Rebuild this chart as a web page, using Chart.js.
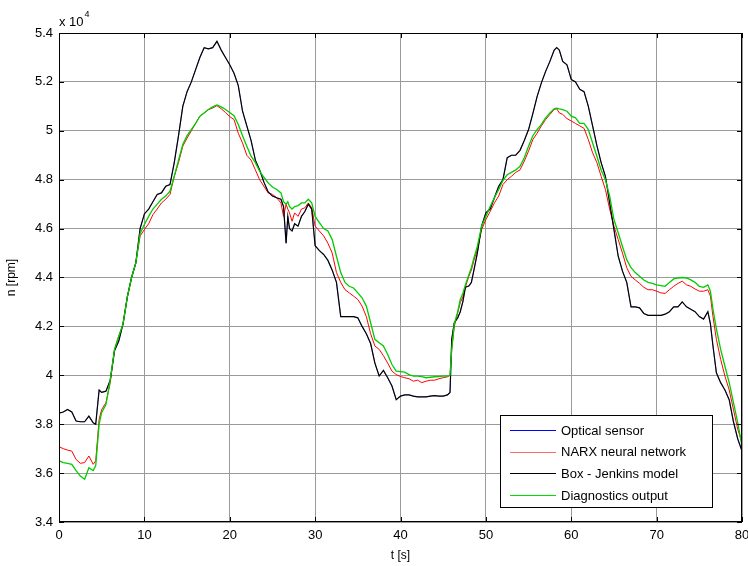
<!DOCTYPE html>
<html>
<head>
<meta charset="utf-8">
<script src="https://cdn.jsdelivr.net/npm/chart.js@4/dist/chart.umd.min.js"></script>
<style>
  html, body { margin: 0; padding: 0; background: #fff; }
  #wrap { width: 748px; height: 566px; }
</style>
</head>
<body>
<div id="wrap"><canvas id="myChart" width="748" height="566"></canvas></div>
<script>
// time [s]
const timeS = [0, 0.5, 1, 1.5, 2, 2.5, 3, 3.5, 4, 4.3, 4.7, 5, 5.5, 6, 6.5, 7, 7.5, 8, 8.5, 9, 9.5,
  10, 10.5, 11, 11.5, 12, 12.5, 13, 13.5, 14, 14.5, 15, 15.5, 16, 16.5, 17, 17.5, 18, 18.5, 19, 19.5,
  20, 20.5, 21, 21.5, 22, 22.5, 23, 23.5, 24, 24.5, 25, 25.5, 26, 26.3, 26.6, 26.8, 27, 27.3, 27.6,
  28, 28.4, 28.8, 29.2, 29.6, 30, 30.5, 31, 31.5, 32, 32.5, 33, 33.5, 34, 34.5, 35, 35.5, 36, 36.5,
  37, 37.5, 38, 38.5, 39, 39.5, 40, 40.5, 41, 41.5, 42, 42.5, 43, 43.5, 44, 44.5, 45, 45.5, 45.8,
  46, 46.3, 46.7, 47, 47.3, 47.6, 48, 48.3, 48.6, 49, 49.5, 50, 50.5, 51, 51.5, 52, 52.5, 53, 53.5,
  54, 54.5, 55, 55.5, 56, 56.5, 57, 57.5, 58, 58.3, 58.6, 59, 59.5, 60, 60.5, 61, 61.5, 62, 62.5,
  63, 63.5, 64, 64.5, 65, 65.5, 66, 66.5, 67, 67.5, 68, 68.5, 69, 69.5, 70, 70.5, 71, 71.5, 72,
  72.5, 73, 73.5, 74, 74.5, 75, 75.5, 76, 76.3, 76.6, 77, 77.5, 78, 78.5, 79, 79.5, 80];

// rotational speed, x 10^4 rpm
const boxJenkins = [3.845, 3.85, 3.86, 3.85, 3.813, 3.81, 3.81, 3.833, 3.806, 3.80, 3.94, 3.93, 3.935,
  3.98, 4.10, 4.14, 4.21, 4.32, 4.40, 4.46, 4.60,
  4.66, 4.68, 4.71, 4.74, 4.746, 4.773, 4.78, 4.87, 4.98, 5.10, 5.16, 5.20, 5.25, 5.30, 5.34, 5.335,
  5.34, 5.366, 5.33, 5.30,
  5.27, 5.235, 5.185, 5.08, 5.02, 4.96, 4.88, 4.84, 4.79, 4.75, 4.733, 4.726, 4.72, 4.69, 4.54, 4.65,
  4.60, 4.59, 4.62,
  4.61, 4.65, 4.67, 4.70, 4.68, 4.53, 4.51, 4.494, 4.47, 4.43, 4.38, 4.24, 4.24, 4.24, 4.24, 4.235,
  4.20, 4.17, 4.13,
  4.05, 3.997, 4.02, 3.99, 3.956, 3.90, 3.915, 3.92, 3.92, 3.915, 3.912, 3.912, 3.912, 3.915, 3.917,
  3.915, 3.915, 3.92, 3.93,
  4.147, 4.215, 4.235, 4.26, 4.30, 4.36, 4.365, 4.38, 4.43, 4.50, 4.61, 4.664, 4.68, 4.726, 4.773,
  4.80, 4.89, 4.90, 4.90,
  4.92, 4.96, 5.005, 5.07, 5.14, 5.196, 5.243, 5.284, 5.33, 5.34, 5.33, 5.284, 5.27, 5.21, 5.20,
  5.17, 5.16, 5.10, 5.02,
  4.94, 4.87, 4.814, 4.705, 4.596, 4.487, 4.426, 4.38, 4.28, 4.28, 4.276, 4.253, 4.245, 4.245, 4.245,
  4.245, 4.25, 4.26, 4.28,
  4.28, 4.30, 4.28, 4.27, 4.26, 4.24, 4.23, 4.26, 4.21, 4.12, 4.01, 3.97, 3.94, 3.90, 3.81, 3.74, 3.69];

// optical sensor trace lies under the Box-Jenkins trace in the picture
const opticalSensor = boxJenkins.slice();

const narx = [3.708, 3.70, 3.694, 3.69, 3.656, 3.64, 3.643, 3.67, 3.636, 3.65, 3.82, 3.86, 3.888,
  3.97, 4.106, 4.16, 4.21, 4.32, 4.40, 4.46, 4.57,
  4.596, 4.62, 4.657, 4.68, 4.705, 4.72, 4.74, 4.814, 4.87, 4.937, 4.97, 5.0, 5.03, 5.06, 5.073, 5.087,
  5.093, 5.103, 5.09, 5.075,
  5.058, 5.046, 4.99, 4.95, 4.90, 4.88, 4.84, 4.80, 4.773, 4.746, 4.74, 4.726, 4.705, 4.65, 4.70, 4.68,
  4.664, 4.63, 4.664,
  4.65, 4.68, 4.685, 4.705, 4.685, 4.61, 4.59, 4.57, 4.54, 4.50, 4.42, 4.38, 4.35, 4.337, 4.324, 4.31,
  4.283, 4.24, 4.17,
  4.12, 4.106, 4.08, 4.05, 4.017, 4.003, 3.995, 3.99, 3.986, 3.976, 3.98, 3.97, 3.976, 3.98, 3.98,
  3.986, 3.99, 3.994, 4.00,
  4.106, 4.20, 4.256, 4.297, 4.32, 4.36, 4.405, 4.43, 4.47, 4.514, 4.596, 4.637, 4.67, 4.705, 4.733,
  4.78, 4.80, 4.814, 4.83,
  4.84, 4.876, 4.917, 4.964, 4.99, 5.02, 5.046, 5.067, 5.087, 5.09, 5.073, 5.067, 5.05, 5.04, 5.03,
  5.02, 5.01, 4.964, 4.91,
  4.87, 4.814, 4.76, 4.68, 4.61, 4.555, 4.50, 4.44, 4.405, 4.39, 4.376, 4.36, 4.35, 4.35, 4.344,
  4.337, 4.335, 4.35, 4.364,
  4.376, 4.385, 4.37, 4.364, 4.353, 4.344, 4.344, 4.35, 4.324, 4.24, 4.147, 4.065, 3.997, 3.94, 3.86,
  3.78, 3.725];

const diagnostics = [3.65, 3.643, 3.64, 3.636, 3.61, 3.588, 3.575, 3.622, 3.61, 3.63, 3.80, 3.848, 3.88,
  3.98, 4.106, 4.16, 4.21, 4.32, 4.40, 4.46, 4.58,
  4.617, 4.65, 4.68, 4.70, 4.72, 4.733, 4.753, 4.814, 4.88, 4.944, 4.98, 5.005, 5.03, 5.06, 5.073,
  5.087, 5.098, 5.106, 5.098, 5.087,
  5.075, 5.062, 5.026, 4.98, 4.937, 4.896, 4.87, 4.835, 4.81, 4.787, 4.77, 4.76, 4.746, 4.71, 4.70,
  4.71, 4.69, 4.68, 4.69,
  4.694, 4.705, 4.705, 4.72, 4.705, 4.65, 4.624, 4.60, 4.59, 4.555, 4.487, 4.42, 4.38, 4.364, 4.357,
  4.337, 4.317, 4.283, 4.215,
  4.147, 4.133, 4.12, 4.085, 4.044, 4.017, 4.015, 4.013, 4.003, 3.997, 3.997, 3.995, 3.99, 3.992,
  3.994, 3.995, 3.997, 3.997, 4.00,
  4.106, 4.21, 4.26, 4.31, 4.335, 4.37, 4.41, 4.44, 4.48, 4.527, 4.61, 4.65, 4.69, 4.726, 4.76, 4.797,
  4.82, 4.83, 4.84,
  4.855, 4.89, 4.937, 4.98, 5.005, 5.026, 5.053, 5.073, 5.09, 5.093, 5.09, 5.087, 5.08, 5.06, 5.053,
  5.03, 5.03, 5.005, 4.95,
  4.896, 4.84, 4.80, 4.733, 4.637, 4.583, 4.527, 4.473, 4.44, 4.42, 4.405, 4.39, 4.38, 4.376, 4.37,
  4.367, 4.364, 4.38, 4.394,
  4.398, 4.40, 4.398, 4.39, 4.38, 4.364, 4.36, 4.37, 4.344, 4.27, 4.19, 4.106, 4.037, 3.97, 3.888,
  3.806, 3.71];

const seriesNames = ['Optical sensor', 'NARX neural network', 'Box - Jenkins model', 'Diagnostics output'];
const seriesColors = ['#0000ff', '#ff0000', '#000000', '#00cc00'];
const legendColors = ['#0000ff', '#ff6a6a', '#000000', '#00dd00'];
const xTicks = [0, 10, 20, 30, 40, 50, 60, 70, 80];
const yTicks = [3.4, 3.6, 3.8, 4, 4.2, 4.4, 4.6, 4.8, 5, 5.2, 5.4];

const FONT = "'Liberation Sans', Arial, sans-serif";
Chart.defaults.font.family = FONT;
Chart.defaults.font.size = 13;
Chart.defaults.color = '#000';

function toPoints(arr) {
  return arr.map((v, i) => ({ x: timeS[i], y: v }));
}

const allSeries = [opticalSensor, narx, boxJenkins, diagnostics];
const drawOrder = [4, 3, 2, 1];
const widths = [0.5, 1, 1.2, 1.3];

const datasets = allSeries.map((arr, i) => ({
  label: seriesNames[i],
  data: toPoints(arr),
  borderColor: seriesColors[i],
  borderWidth: widths[i],
  pointRadius: 0,
  tension: 0,
  fill: false,
  order: drawOrder[i]
}));

// frame, inward ticks, exponent label and legend, matlab style
const matlabBox = {
  id: 'matlabBox',
  afterDraw(chart) {
    const ctx = chart.ctx;
    const a = chart.chartArea;
    const xs = chart.scales.x, ys = chart.scales.y;
    ctx.save();
    ctx.strokeStyle = '#000';
    ctx.lineWidth = 1;
    ctx.strokeRect(a.left + 0.5, a.top + 0.5, a.right - a.left - 1, a.bottom - a.top - 1);
    ctx.beginPath();
    xTicks.forEach(t => {
      const px = Math.round(xs.getPixelForValue(t)) + 0.5;
      ctx.moveTo(px, a.bottom); ctx.lineTo(px, a.bottom - 5);
      ctx.moveTo(px, a.top); ctx.lineTo(px, a.top + 5);
    });
    yTicks.forEach(t => {
      const py = Math.round(ys.getPixelForValue(t)) + 0.5;
      ctx.moveTo(a.left, py); ctx.lineTo(a.left + 5, py);
      ctx.moveTo(a.right, py); ctx.lineTo(a.right - 5, py);
    });
    ctx.stroke();

    // x 10^4
    ctx.fillStyle = '#000';
    ctx.textBaseline = 'alphabetic';
    ctx.textAlign = 'left';
    ctx.font = '13px ' + FONT;
    ctx.fillText('x 10', a.left, a.top - 7);
    const w = ctx.measureText('x 10').width;
    ctx.font = '9px ' + FONT;
    ctx.fillText('4', a.left + w + 1, a.top - 16);

    // legend
    const bx = a.right - 242, by = a.bottom - 107, bw = 212, bh = 92;
    ctx.fillStyle = '#fff';
    ctx.fillRect(bx, by, bw, bh);
    ctx.strokeStyle = '#000';
    ctx.strokeRect(bx + 0.5, by + 0.5, bw, bh);
    ctx.font = '13px ' + FONT;
    ctx.textBaseline = 'middle';
    seriesNames.forEach((name, i) => {
      const ly = by + 15 + i * 21.7;
      ctx.strokeStyle = legendColors[i];
      ctx.lineWidth = 1;
      ctx.beginPath();
      ctx.moveTo(bx + 10, Math.round(ly) + 0.5);
      ctx.lineTo(bx + 56, Math.round(ly) + 0.5);
      ctx.stroke();
      ctx.fillStyle = '#000';
      ctx.fillText(name, bx + 61, ly + 1);
    });
    ctx.restore();
  }
};

new Chart(document.getElementById('myChart'), {
  type: 'line',
  data: { datasets: datasets },
  options: {
    responsive: false,
    animation: false,
    events: [],
    layout: { padding: { top: 33, right: 6, left: 0, bottom: 0 } },
    plugins: {
      legend: { display: false },
      tooltip: { enabled: false }
    },
    scales: {
      x: {
        type: 'linear',
        min: 0,
        max: 80,
        afterFit: s => { s.height = 44; s.paddingLeft = 0; s.paddingRight = 0; },
        afterBuildTicks: s => { s.ticks = xTicks.map(v => ({ value: v })); },
        ticks: { padding: 6, maxRotation: 0, autoSkip: false, callback: v => String(v) },
        grid: { color: '#9a9a9a', lineWidth: 1, drawTicks: false },
        border: { display: false },
        title: { display: true, text: 't [s]', font: { size: 12 }, padding: { top: 4, bottom: 3 } }
      },
      y: {
        type: 'linear',
        min: 3.4,
        max: 5.4,
        afterFit: s => { s.width = 59; s.paddingTop = 0; s.paddingBottom = 0; },
        afterBuildTicks: s => { s.ticks = yTicks.map(v => ({ value: v })); },
        ticks: { padding: 6, autoSkip: false, callback: v => String(Number(v.toFixed(1))) },
        grid: { color: '#9a9a9a', lineWidth: 1, drawTicks: false },
        border: { display: false },
        title: { display: true, text: 'n [rpm]', font: { size: 12 }, padding: { top: 4, bottom: 4 } }
      }
    }
  },
  plugins: [matlabBox]
});
</script>
</body>
</html>
